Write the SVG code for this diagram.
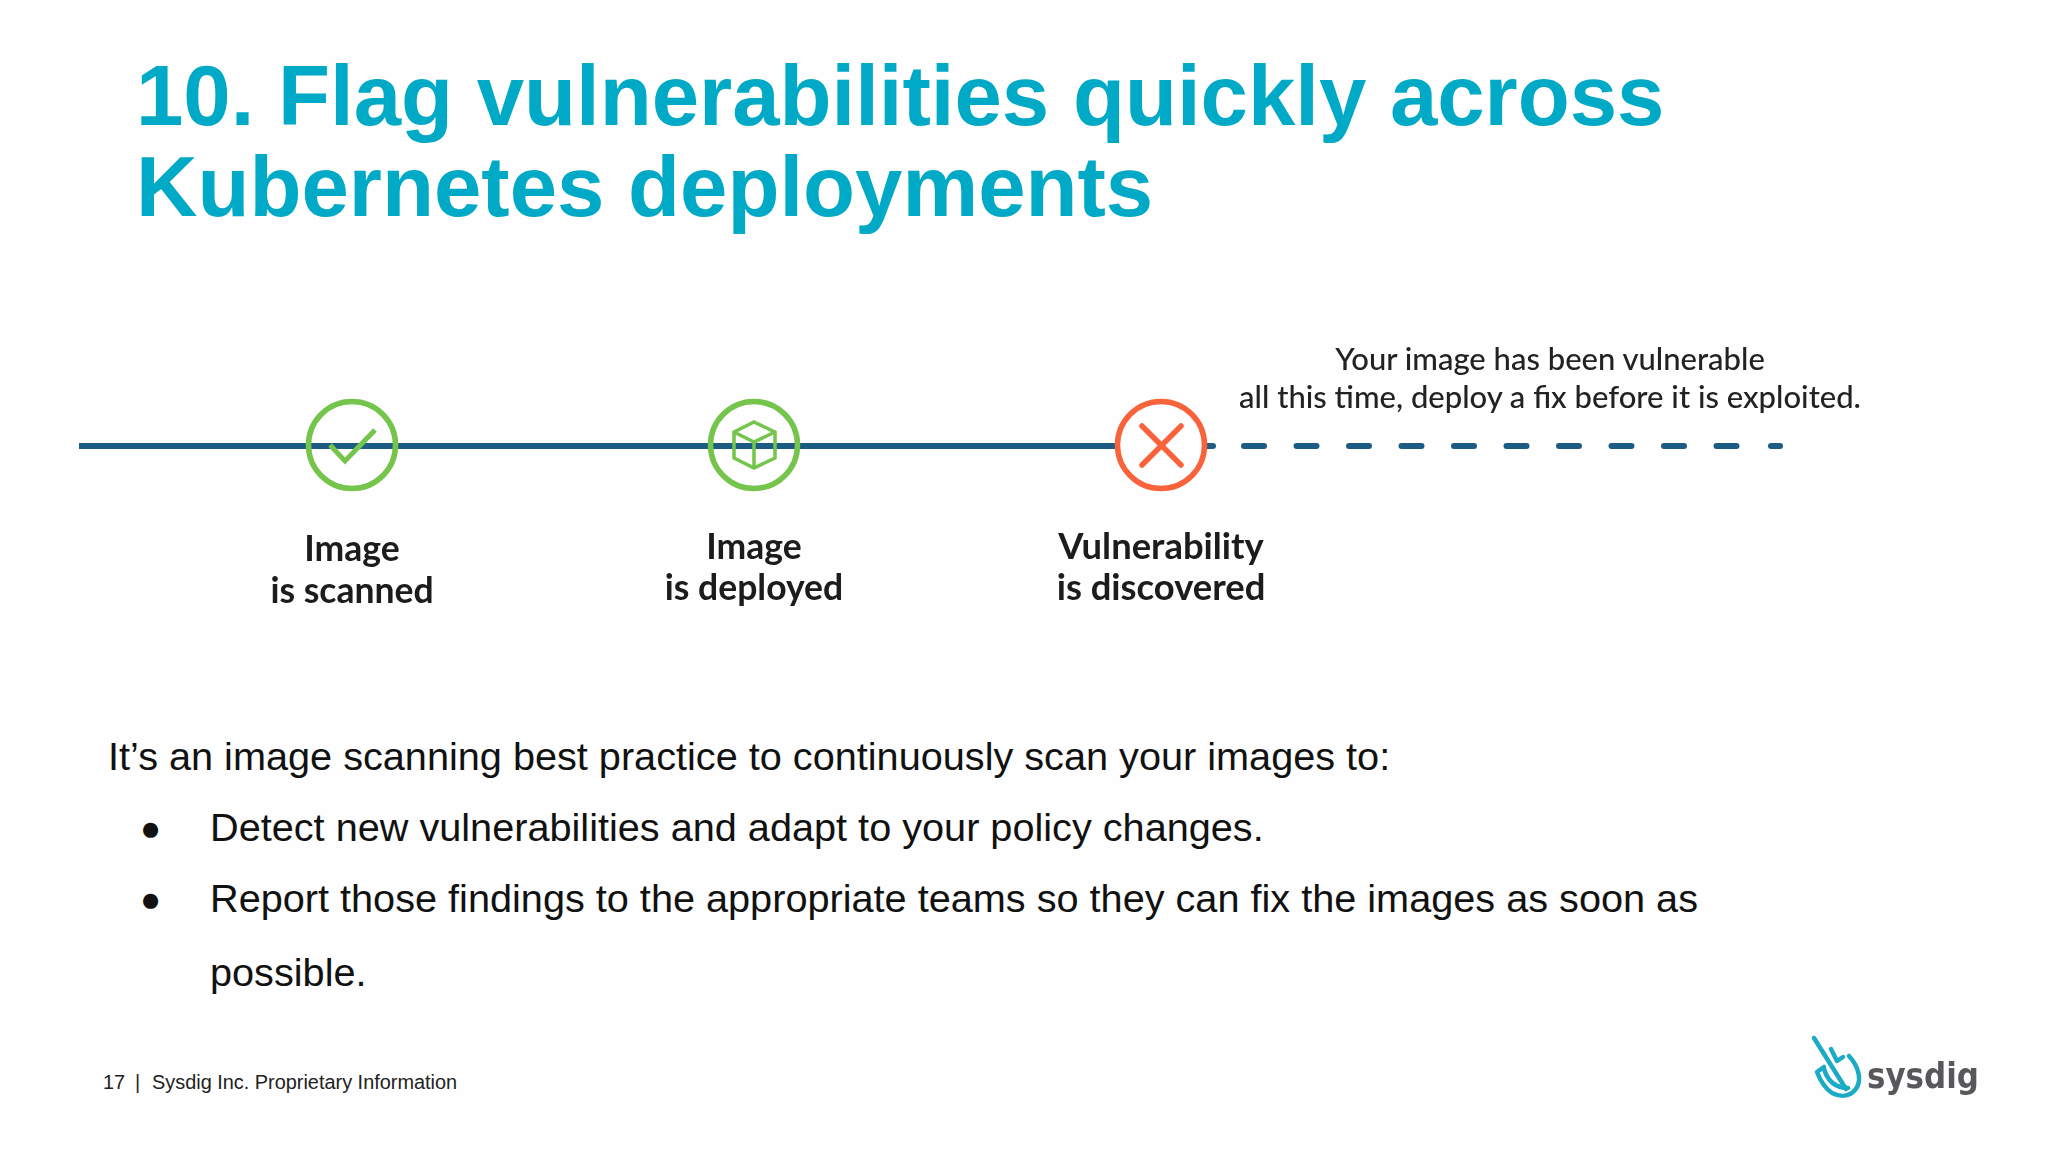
<svg xmlns="http://www.w3.org/2000/svg" width="2048" height="1152" viewBox="0 0 2048 1152">
<defs><filter id="soft" filterUnits="userSpaceOnUse" x="0" y="0" width="2048" height="1152"><feGaussianBlur stdDeviation="0.6"/></filter></defs>
<style>
.title{font:bold 85.15px "Liberation Sans",Arial,sans-serif;fill:#00a9c6}
.body{font:39.67px "Liberation Sans",Arial,sans-serif;fill:#111}
.bul{font:35px "Liberation Sans",Arial,sans-serif;fill:#111}
.foot{font:19.9px "Liberation Sans",Arial,sans-serif;fill:#222}
.lab{font:700 35.5px Lato,"Liberation Sans",sans-serif;fill:#1a1a1a;text-anchor:middle}
.lab2{font-size:36.4px}
.note{font:500 31px Lato,"Liberation Sans",sans-serif;fill:#222;text-anchor:middle}
.ring{fill:#fff;stroke-width:5.5}
.g{stroke:#74c44b;fill:none}
.r{stroke:#f9643a;fill:none}
.ln{stroke:#1f5c84;stroke-width:6;fill:none}
</style>
<rect width="2048" height="1152" fill="#fefefe"/>
<text class="title" x="136" y="125">10. Flag vulnerabilities quickly across</text>
<text class="title" x="136" y="216">Kubernetes deployments</text>
<g id="connectors" filter="url(#soft)">
<path class="ln" d="M79 446H1116"/>
<path class="ln" d="M1207 446H1213" stroke-linecap="round"/>
<path class="ln" d="M1244 446H1264M1296.500 446H1316.500M1349 446H1369M1401.500 446H1421.500M1454 446H1474M1506.500 446H1526.500M1559 446H1579M1611.500 446H1631.500M1664 446H1684M1716.500 446H1736.500M1771 446H1780" stroke-linecap="round"/>
</g>
<g id="node-scanned" filter="url(#soft)">
<circle class="ring g" cx="352" cy="445" r="43.500"/>
<path class="g" stroke-width="5" d="M330 445L345 461L375 430"/>
<text class="lab" x="352" y="561">Image</text>
<text class="lab" x="352" y="603">is scanned</text>
</g>
<g id="node-deployed" filter="url(#soft)">
<circle class="ring g" cx="754" cy="445" r="43.500"/>
<path class="g" stroke-width="3.500" d="M754 422L775 432V458L754 468L734 458V432ZM734 432L754 442L775 432M754 442V468"/>
<text class="lab" x="754" y="559">Image</text>
<text class="lab" x="754" y="600">is deployed</text>
</g>
<g id="node-discovered" filter="url(#soft)">
<circle class="ring r" cx="1161" cy="445" r="43.500"/>
<path class="r" stroke-width="5.500" stroke-linecap="round" d="M1142 426L1181 465M1181 426L1142 465"/>
<text class="lab lab2" x="1161" y="559">Vulnerability</text>
<text class="lab lab2" x="1161" y="600">is discovered</text>
</g>
<g id="note" filter="url(#soft)">
<text class="note" x="1550" y="370">Your image has been vulnerable</text>
<text class="note" x="1550" y="408">all this time, deploy a fix before it is exploited.</text>
</g>
<text class="body" x="108" y="770">It’s an image scanning best practice to continuously scan your images to:</text>
<text class="bul" x="140" y="840">●</text>
<text class="body" x="210" y="841">Detect new vulnerabilities and adapt to your policy changes.</text>
<text class="bul" x="140" y="911">●</text>
<text class="body" x="210" y="912">Report those findings to the appropriate teams so they can fix the images as soon as</text>
<text class="body" x="210" y="986">possible.</text>
<text class="foot" x="103" y="1089">17</text>
<text class="foot" x="135" y="1089">|</text>
<text class="foot" x="152" y="1089">Sysdig Inc. Proprietary Information</text>
<g id="logo" filter="url(#soft)">
<g fill="none" stroke="#1eabc4" stroke-width="4.500" stroke-linecap="round" stroke-linejoin="round">
<path d="M1814 1038L1846 1089"/>
<path d="M1831 1049L1837 1061L1843 1057"/>
<path d="M1849 1056C1860 1068 1862 1082 1855 1090C1849 1097 1840 1097 1832 1093C1825 1088 1820 1080 1817 1072L1824 1067"/>
<path d="M1824 1069C1828 1082 1836 1088 1848 1088"/>
</g>
<text x="1867" y="1088" font-family="'DejaVu Sans',sans-serif" font-weight="700" font-size="35" textLength="112" lengthAdjust="spacingAndGlyphs" fill="#58595b">sysdig</text>
</g>
</svg>
